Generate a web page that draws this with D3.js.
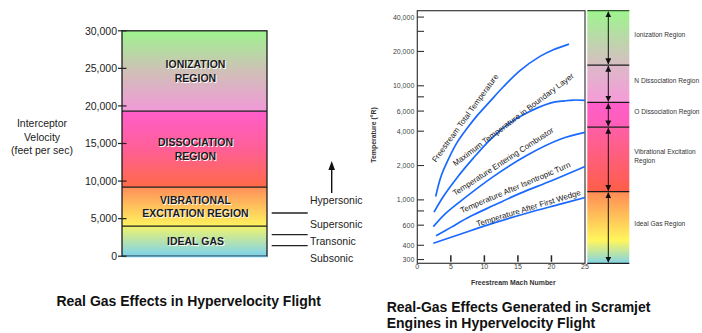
<!DOCTYPE html>
<html>
<head>
<meta charset="utf-8">
<script src="https://cdn.jsdelivr.net/npm/d3@7"></script>
<style>
  html, body { margin: 0; padding: 0; background: #fff; }
  svg { display: block; }
</style>
</head>
<body>
<svg id="chart" width="702" height="333"></svg>
<script>
// ---------- Left panel: gas regimes by interceptor velocity (ft/s) ----------
const velocityTicks = [0, 5000, 10000, 15000, 20000, 25000, 30000];
const regionTops = [4000, 9200, 19300, 30000];
const regionLabels = [
  ["IDEAL GAS"],
  ["VIBRATIONAL", "EXCITATION REGION"],
  ["DISSOCIATION", "REGION"],
  ["IONIZATION", "REGION"]
];
const speedBounds = [1410, 2870, 5750];
const speedLabels = ["Subsonic", "Transonic", "Supersonic", "Hypersonic"];

// ---------- Right panel: temperature (°R) vs freestream Mach number ----------
const machTicks = [0, 5, 10, 15, 20, 25];
const tempTicks = [300, 400, 600, 800, 1000, 2000, 4000, 6000, 8000, 10000, 20000, 30000, 40000];
const tempTickLabels = ["300", "400", "600", "", "1,000", "2,000", "4,000", "6,000", "", "10,000", "20,000", "", "40,000"];

const curveNames = [
  "Freestream Total Temperature",
  "Maximum Temperature in Boundary Layer",
  "Temperature Entering Combustor",
  "Temperature After Isentropic Turn",
  "Temperature After First Wedge"
];
const freestreamMach = [2.74, 3.53, 4.48, 5.87, 7.46, 8.95, 10.84, 12.83, 15.31, 18.29, 20.28, 22.62];
const freestreamTemp = [1070, 1600, 2170, 3140, 4260, 5500, 7300, 9800, 13600, 18100, 20700, 23200];
const boundaryMach = [2.49, 3.88, 5.87, 8.35, 10.84, 13.3, 15.8, 19.8, 22.0, 23.3, 25];
const boundaryTemp = [780, 1070, 1550, 2320, 3360, 4500, 5570, 7050, 7380, 7500, 7450];
const combustorMach = [2.39, 4.0, 6.37, 11.33, 16.3, 21.3, 25];
const combustorTemp = [583, 740, 966, 1600, 2450, 3400, 3900];
const isentropicMach = [2.79, 5.0, 7.86, 11.5, 15.3, 20, 25];
const isentropicTemp = [484, 574, 714, 900, 1140, 1470, 1960];
const wedgeMach = [2.39, 6.37, 11.33, 16.3, 21.3, 25];
const wedgeTemp = [417, 500, 625, 764, 917, 1050];

// where each curve caption starts (Mach, °R)
const captionMach = [2.78, 5.69, 5.62, 6.62, 8.95];
const captionTemp = [2110, 1960, 1080, 764, 583];

// temperature regimes on the side bar (°R boundaries, bottom to top)
const tempRegionBounds = [1180, 4340, 7140, 15200];
const tempRegionNames = [
  ["Ideal Gas Region"],
  ["Vibrational Excitation", "Region"],
  ["O Dissociation Region"],
  ["N Dissociation Region"],
  ["Ionization Region"]
];

// ---------- styling ----------
const FONT = "'Liberation Sans', Arial, Helvetica, sans-serif";
const CURVE_COLOR = "#1a69ff";
const captionAngle = [-54, -37, -33, -23, -17];
const leftRegionColors = [
  [[0, "#f1f36c"], [1, "#7bd2f0"]],
  [[0, "#ff8d5a"], [0.5, "#ffc25c"], [1, "#fff35e"]],
  [[0, "#ff5ecb"], [0.5, "#ff5f96"], [1, "#ff6a48"]],
  [[0, "#9ef38f"], [0.5, "#cfc0b7"], [1, "#f19ad8"]]
];
const rightRegionColors = [
  [[0, "#ff8a56"], [0.68, "#fff65c"], [1, "#82d4e6"]],
  [[0, "#ff5fa6"], [1, "#ff5e48"]],
  [[0, "#ff5ecb"], [1, "#ff5fb6"]],
  [[0, "#dcb9c9"], [1, "#f69bd8"]],
  [[0, "#9ef48e"], [1, "#d6bec2"]]
];

const svg = d3.select("#chart").style("font-family", FONT);
const defs = svg.append("defs");

function addGradient(id, stops) {
  const g = defs.append("linearGradient")
    .attr("id", id).attr("x1", 0).attr("y1", 0).attr("x2", 0).attr("y2", 1);
  stops.forEach(([o, c]) => g.append("stop").attr("offset", o).attr("stop-color", c));
}

// ================= LEFT PANEL =================
const yV = d3.scaleLinear().domain([0, 30000]).range([256.2, 30.8]);
const barX0 = 122, barX1 = 267;
const left = svg.append("g");

regionTops.forEach((top, i) => {
  const bottom = i === 0 ? 0 : regionTops[i - 1];
  addGradient("lg" + i, leftRegionColors[i]);
  left.append("rect")
    .attr("x", barX0).attr("width", barX1 - barX0)
    .attr("y", yV(top)).attr("height", yV(bottom) - yV(top))
    .attr("fill", `url(#lg${i})`);
});
// region dividers and outline
regionTops.slice(0, -1).forEach(v => {
  left.append("line")
    .attr("x1", barX0).attr("x2", barX1).attr("y1", yV(v)).attr("y2", yV(v))
    .attr("stroke", "#1c1c1c").attr("stroke-width", 1.3);
});
left.append("rect")
  .attr("x", barX0).attr("y", yV(30000))
  .attr("width", barX1 - barX0).attr("height", yV(0) - yV(30000))
  .attr("fill", "none").attr("stroke", "#1c1c1c").attr("stroke-width", 1.3);
left.append("line")
  .attr("x1", barX0).attr("x2", barX1).attr("y1", yV(0) + 0.6).attr("y2", yV(0) + 0.6)
  .attr("stroke", "#6cc8ef").attr("stroke-width", 1);

// velocity axis
const vAxis = left.append("g");
velocityTicks.forEach(v => {
  vAxis.append("line")
    .attr("x1", 118).attr("x2", 126.5).attr("y1", yV(v)).attr("y2", yV(v))
    .attr("stroke", "#222").attr("stroke-width", 1.2);
  vAxis.append("text")
    .attr("x", 117).attr("y", yV(v)).attr("dy", "0.36em")
    .attr("text-anchor", "end").attr("font-size", 10.5).attr("fill", "#222")
    .text(d3.format(",")(v));
});

// axis title
["Interceptor", "Velocity", "(feet per sec)"].forEach((t, i) => {
  left.append("text")
    .attr("x", 42).attr("y", 123.3 + i * 13.7).attr("dy", "0.36em")
    .attr("text-anchor", "middle").attr("font-size", 10.5).attr("fill", "#222")
    .text(t);
});

// region captions (dark text over a faint white offset copy)
regionTops.forEach((top, i) => {
  const bottom = i === 0 ? 0 : regionTops[i - 1];
  const lines = regionLabels[i];
  const cy = yV((top + bottom) / 2);
  const gap = 13.5;
  lines.forEach((t, j) => {
    const y = cy + (j - (lines.length - 1) / 2) * gap;
    [["#ffffff", 1], ["#1a1a1a", 0]].forEach(([c, off]) => {
      left.append("text")
        .attr("x", (barX0 + barX1) / 2 + 1 + off).attr("y", y + off).attr("dy", "0.36em")
        .attr("text-anchor", "middle").attr("font-size", 10.5).attr("font-weight", "bold")
        .attr("fill", c).text(t);
    });
  });
});

// speed regimes to the right of the bar
speedBounds.forEach(v => {
  left.append("line")
    .attr("x1", 271.7).attr("x2", 307.7).attr("y1", yV(v)).attr("y2", yV(v))
    .attr("stroke", "#222").attr("stroke-width", 1.3);
});
const speedY = [
  yV(speedBounds[0]) + 13,
  (yV(speedBounds[0]) + yV(speedBounds[1])) / 2 + 1,
  (yV(speedBounds[1]) + yV(speedBounds[2])) / 2,
  yV(speedBounds[2]) - 12.6
];
speedLabels.forEach((t, i) => {
  left.append("text")
    .attr("x", 310).attr("y", speedY[i]).attr("dy", "0.36em")
    .attr("font-size", 10.5).attr("fill", "#222").text(t);
});
const arrowX = 331.7, arrowBase = yV(speedBounds[2]) - 20, arrowTip = yV(speedBounds[2]) - 52;
left.append("line")
  .attr("x1", arrowX).attr("x2", arrowX).attr("y1", arrowBase).attr("y2", arrowTip + 7)
  .attr("stroke", "#111").attr("stroke-width", 1.4);
left.append("path")
  .attr("d", `M${arrowX},${arrowTip} L${arrowX - 3.3},${arrowTip + 9} L${arrowX + 3.3},${arrowTip + 9} Z`)
  .attr("fill", "#111");

left.append("text")
  .attr("x", 188.7).attr("y", 305.5)
  .attr("text-anchor", "middle").attr("font-size", 14).attr("font-weight", "bold").attr("fill", "#111")
  .text("Real Gas Effects in Hypervelocity Flight");

// ================= RIGHT PANEL =================
const xM = d3.scaleLinear().domain([0, 25]).range([417.3, 585]);
const yT = d3.scaleLog().domain([278, 45500]).range([263.3, 10.7]);
const right = svg.append("g");

// frame
right.append("rect")
  .attr("x", xM(0)).attr("y", yT(45500))
  .attr("width", xM(25) - xM(0)).attr("height", yT(278) - yT(45500))
  .attr("fill", "none").attr("stroke", "#3a3a3a").attr("stroke-width", 1.2);

// temperature ticks (inside the frame)
tempTicks.forEach((v, i) => {
  right.append("line")
    .attr("x1", xM(0)).attr("x2", xM(0) + 6.7).attr("y1", yT(v)).attr("y2", yT(v))
    .attr("stroke", "#333").attr("stroke-width", 1.1);
  if (tempTickLabels[i]) {
    right.append("text")
      .attr("x", 414.3).attr("y", yT(v)).attr("dy", "0.36em")
      .attr("text-anchor", "end").attr("font-size", 7).attr("fill", "#444")
      .text(tempTickLabels[i]);
  }
});

// Mach ticks
machTicks.forEach(m => {
  if (m > 0 && m < 25) {
    right.append("line")
      .attr("x1", xM(m)).attr("x2", xM(m)).attr("y1", yT(278) - 8).attr("y2", yT(278) - 1.5)
      .attr("stroke", "#222").attr("stroke-width", 1.5);
  }
  right.append("text")
    .attr("x", xM(m)).attr("y", 266.8).attr("dy", "0.36em")
    .attr("text-anchor", "middle").attr("font-size", 7).attr("fill", "#444")
    .text(m);
});

// axis titles
right.append("text")
  .attr("x", 513.3).attr("y", 284.6)
  .attr("text-anchor", "middle").attr("font-size", 6.9).attr("font-weight", "bold").attr("fill", "#333")
  .text("Freestream Mach Number");
right.append("text")
  .attr("transform", "translate(375.8,135) rotate(-90)")
  .attr("text-anchor", "middle").attr("font-size", 6.9).attr("font-weight", "bold").attr("fill", "#333")
  .text("Temperature (°R)");

// curves
const series = [
  [freestreamMach, freestreamTemp],
  [boundaryMach, boundaryTemp],
  [combustorMach, combustorTemp],
  [isentropicMach, isentropicTemp],
  [wedgeMach, wedgeTemp]
];
const line = d3.line()
  .x(d => xM(d[0])).y(d => yT(d[1]))
  .curve(d3.curveCatmullRom.alpha(0.5));
series.forEach(([ms, ts]) => {
  right.append("path")
    .datum(ms.map((m, i) => [m, ts[i]]))
    .attr("d", line)
    .attr("fill", "none").attr("stroke", CURVE_COLOR).attr("stroke-width", 1.7);
});

// curve captions
curveNames.forEach((name, i) => {
  right.append("text")
    .attr("transform", `translate(${xM(captionMach[i])},${yT(captionTemp[i])}) rotate(${captionAngle[i]})`)
    .attr("font-size", 8).attr("fill", "#222").text(name);
});

// side bar of temperature regimes
const sideX0 = 587.3, sideX1 = 629.3, sideMid = 608.3;
const bounds = [278, ...tempRegionBounds, 45500];
const side = svg.append("g");
tempRegionNames.forEach((_, i) => {
  addGradient("rg" + i, rightRegionColors[i]);
  side.append("rect")
    .attr("x", sideX0).attr("width", sideX1 - sideX0)
    .attr("y", yT(bounds[i + 1])).attr("height", yT(bounds[i]) - yT(bounds[i + 1]))
    .attr("fill", `url(#rg${i})`);
});
bounds.forEach((v, i) => {
  side.append("line")
    .attr("x1", sideX0).attr("x2", sideX1).attr("y1", yT(v)).attr("y2", yT(v))
    .attr("stroke", i === bounds.length - 1 ? "#2f5a2a" : "#1c1c1c").attr("stroke-width", 1.2);
});

// double-headed arrows spanning each regime
defs.append("marker")
  .attr("id", "tip").attr("viewBox", "0 0 10 10").attr("refX", 9.5).attr("refY", 5)
  .attr("markerWidth", 6).attr("markerHeight", 6).attr("markerUnits", "userSpaceOnUse")
  .attr("orient", "auto-start-reverse")
  .append("path").attr("d", "M0,0 L10,5 L0,10 Z").attr("fill", "#111");
tempRegionNames.forEach((_, i) => {
  side.append("line")
    .attr("x1", sideMid).attr("x2", sideMid)
    .attr("y1", yT(bounds[i]) - 1).attr("y2", yT(bounds[i + 1]) + 1)
    .attr("stroke", "#111").attr("stroke-width", 1)
    .attr("marker-start", "url(#tip)").attr("marker-end", "url(#tip)");
});

// regime names
tempRegionNames.forEach((lines, i) => {
  const cy = yT(Math.sqrt(bounds[i] * bounds[i + 1])) - 3.5;
  lines.forEach((t, j) => {
    side.append("text")
      .attr("x", 634.3).attr("y", cy + (j - (lines.length - 1) / 2) * 9.4).attr("dy", "0.36em")
      .attr("font-size", 6.6).attr("fill", "#333").text(t);
  });
});

// caption under the right panel
["Real-Gas Effects Generated in Scramjet", "Engines in Hypervelocity Flight"].forEach((t, i) => {
  svg.append("text")
    .attr("x", 386.7).attr("y", 311.7 + i * 16.6)
    .attr("font-size", 14).attr("font-weight", "bold").attr("fill", "#111")
    .text(t);
});
</script>
</body>
</html>
